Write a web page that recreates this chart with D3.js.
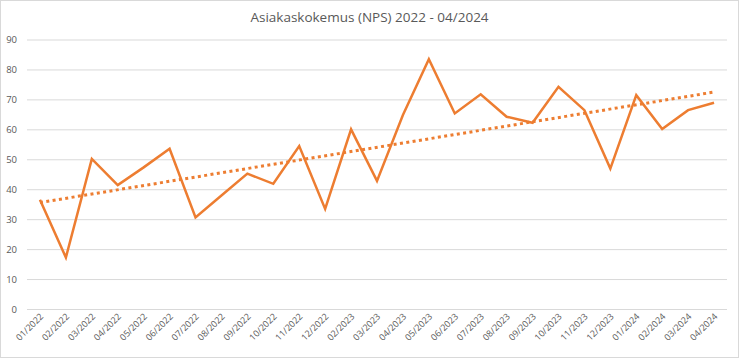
<!DOCTYPE html>
<html>
<head>
<meta charset="utf-8">
<script src="https://cdn.jsdelivr.net/npm/d3@7"></script>
<style>
  html, body { margin: 0; padding: 0; background: #fff; }
  svg { display: block; font-family: "Open Sans", "Noto Sans", sans-serif; }
</style>
</head>
<body>
<svg id="chart" width="739" height="358"></svg>
<script>
const title = "Asiakaskokemus (NPS) 2022 - 04/2024";
const categories = ["01/2022","02/2022","03/2022","04/2022","05/2022","06/2022","07/2022","08/2022","09/2022","10/2022","11/2022","12/2022","02/2023","03/2023","04/2023","05/2023","06/2023","07/2023","08/2023","09/2023","10/2023","11/2023","12/2023","01/2024","02/2024","03/2024","04/2024"];
const npsValues = [36.5, 17.2, 50.1, 41.4, 47.3, 53.5, 30.6, 37.9, 45.2, 41.8, 54.4, 33.4, 60.0, 42.8, 64.8, 83.4, 65.3, 71.7, 64.2, 62.2, 74.2, 66.4, 46.9, 71.4, 60.1, 66.4, 68.9];
const yTicks = [0, 10, 20, 30, 40, 50, 60, 70, 80, 90];

(function () {
const svg = d3.select("#chart");
const W = 739, H = 358;
const pLeft = 27, pRight = 727, pTop = 39.5, pBottom = 309;
const orange = "#ED7D31";

svg.append("rect").attr("x", 0.5).attr("y", 0.5).attr("width", W - 1).attr("height", H - 1)
  .attr("fill", "#fff").attr("stroke", "#d9d9d9");

const x = d3.scaleBand().domain(categories).range([pLeft, pRight]).padding(0);
const y = d3.scaleLinear().domain([0, 90]).range([pBottom, pTop]);
const cx = d => x(d) + x.bandwidth() / 2;

// title
svg.append("text").attr("x", W / 2).attr("y", 22).attr("text-anchor", "middle")
  .attr("font-size", 13.5).attr("fill", "#595959").text(title);

// gridlines
const yAxis = d3.axisLeft(y).tickValues(yTicks).tickSize(-(pRight - pLeft)).tickPadding(10)
  .tickFormat(d3.format("d"));
const gy = svg.append("g").attr("transform", `translate(${pLeft},0)`).call(yAxis);
gy.select(".domain").remove();
gy.selectAll(".tick line").attr("stroke", "#d9d9d9").attr("stroke-width", 1);
gy.selectAll(".tick text").attr("font-size", 9.5).attr("fill", "#595959")
  .attr("font-family", "'Open Sans', sans-serif");

// x axis labels
const xAxis = d3.axisBottom(x).tickSize(0).tickPadding(0);
const gx = svg.append("g").attr("transform", `translate(0,${pBottom})`).call(xAxis);
gx.select(".domain").remove();
gx.selectAll(".tick text")
  .attr("font-size", 9).attr("fill", "#595959")
  .attr("font-family", "'Open Sans', sans-serif")
  .attr("text-anchor", "end")
  .attr("dy", 0)
  .attr("transform", "translate(4,8) rotate(-45)");

// data line
const data = categories.map((c, i) => ({ c, i, v: npsValues[i] }));
const line = d3.line().x(d => cx(d.c)).y(d => y(d.v));
svg.append("path").datum(data).attr("d", line).attr("fill", "none")
  .attr("stroke", orange).attr("stroke-width", 2.5).attr("stroke-linejoin", "miter");

// linear trendline (least squares on index)
const n = data.length;
const mx = d3.mean(data, d => d.i), my = d3.mean(data, d => d.v);
const slope = d3.sum(data, d => (d.i - mx) * (d.v - my)) / d3.sum(data, d => (d.i - mx) ** 2);
const intercept = my - slope * mx;
const trend = [data[0], data[n - 1]].map(d => ({ c: d.c, v: intercept + slope * d.i }));
svg.append("path").datum(trend).attr("d", line).attr("fill", "none")
  .attr("stroke", orange).attr("stroke-width", 3).attr("stroke-dasharray", "3,3.4");
})();
</script>
</body>
</html>
